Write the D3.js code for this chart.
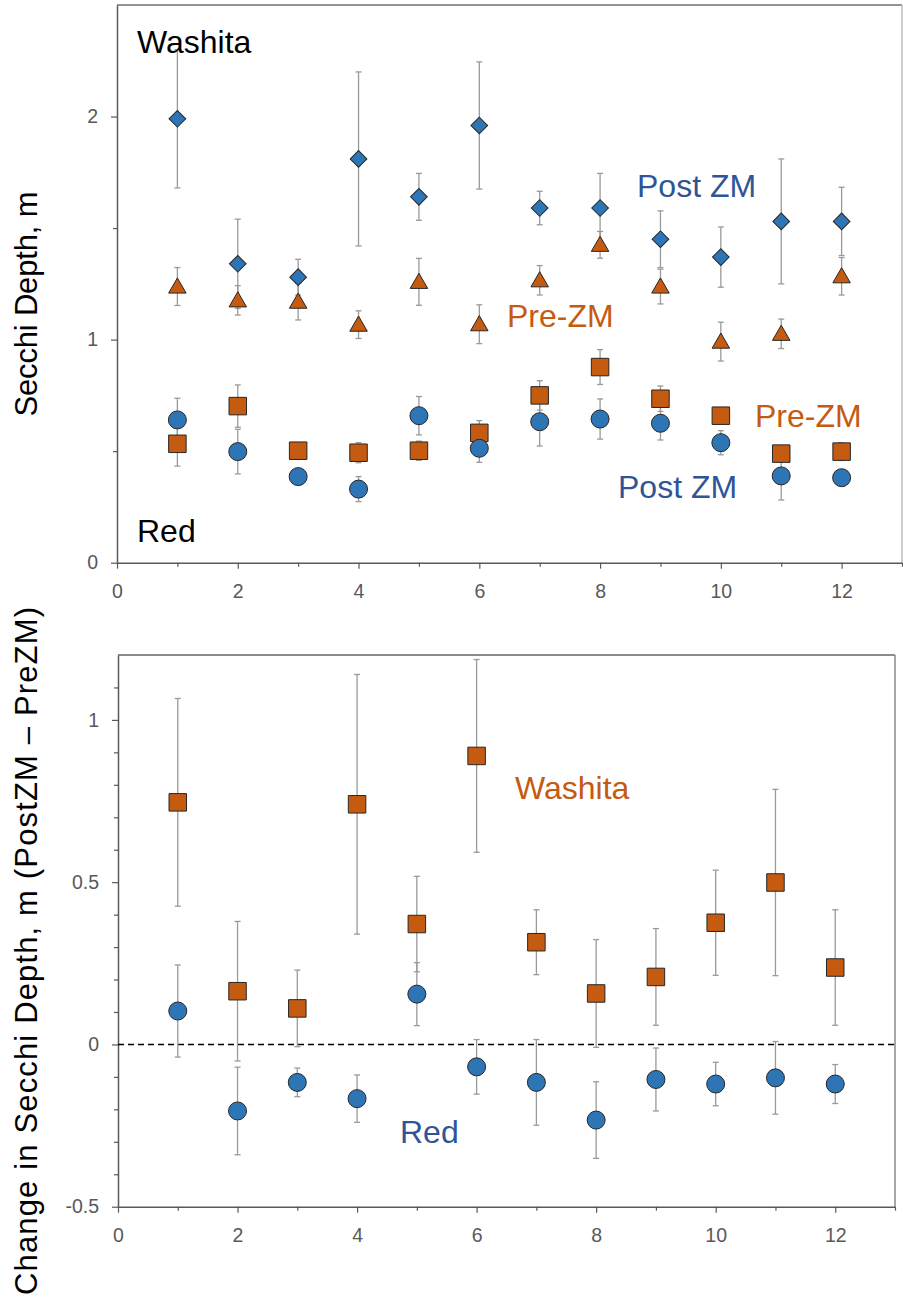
<!DOCTYPE html>
<html>
<head>
<meta charset="utf-8">
<script src="https://cdn.jsdelivr.net/npm/d3@7"></script>
<style>
  html, body { margin: 0; padding: 0; background: #fff; }
  svg { display: block; font-family: "Liberation Sans", Arial, Helvetica, sans-serif; }
</style>
</head>
<body>
<svg id="chart" width="903" height="1302"></svg>
<script>
// Months sampled
const months = [1, 2, 3, 4, 5, 6, 7, 8, 9, 10, 11, 12];

// Mean Secchi depth (m) and error, by month
const washitaPost    = [1.99, 1.34, 1.28, 1.81, 1.64, 1.96, 1.59, 1.59, 1.45, 1.37, 1.53, 1.53];
const washitaPostErr = [0.31, 0.20, 0.08, 0.39, 0.105, 0.285, 0.075, 0.155, 0.127, 0.135, 0.28, 0.153];
const washitaPre     = [1.238, 1.176, 1.17, 1.067, 1.259, 1.069, 1.266, 1.425, 1.238, 0.991, 1.026, 1.284];
const washitaPreErr  = [0.085, 0.066, 0.082, 0.062, 0.105, 0.087, 0.066, 0.06, 0.078, 0.087, 0.066, 0.084];
const redPre         = [0.533, 0.702, 0.502, 0.493, 0.502, 0.582, 0.750, 0.877, 0.735, 0.659, 0.489, 0.498];
const redPreErr      = [0.10, 0.095, 0.02, 0.045, 0.043, 0.055, 0.066, 0.078, 0.057, 0.01, 0.02, 0.04];
const redPost        = [0.640, 0.498, 0.386, 0.330, 0.659, 0.513, 0.632, 0.644, 0.625, 0.538, 0.389, 0.381];
const redPostErr     = [0.097, 0.10, 0.02, 0.056, 0.086, 0.063, 0.109, 0.09, 0.075, 0.054, 0.108, 0.03];

// Change in Secchi depth (PostZM - PreZM) and error, by month
const washitaChange    = [0.746, 0.164, 0.111, 0.740, 0.371, 0.889, 0.315, 0.157, 0.208, 0.375, 0.499, 0.237];
const washitaChangeErr = [0.32, 0.215, 0.118, 0.40, 0.147, 0.297, 0.10, 0.166, 0.149, 0.162, 0.287, 0.178];
const redChange        = [0.103, -0.205, -0.117, -0.167, 0.155, -0.069, -0.117, -0.233, -0.108, -0.122, -0.103, -0.122];
const redChangeErr     = [0.142, 0.135, 0.044, 0.073, 0.097, 0.084, 0.132, 0.118, 0.097, 0.067, 0.112, 0.06];

// Axis ticks
const xTicks = d3.range(0, 14, 1);
const xTickLabels = [0, 2, 4, 6, 8, 10, 12];
const yTopTicks = [0, 0.5, 1, 1.5, 2];
const yTopTickLabels = [0, 1, 2];
const yBotTicks = d3.range(-5, 12, 1).map(d => d / 10);
const yBotTickLabels = [-0.5, 0, 0.5, 1];

const BLUE = "#2e75b6", ORANGE = "#c55a11";
const BLUE_TEXT = "#2f5597", ORANGE_TEXT = "#c55a11";
const AXIS = "#595959", ERR = "#9a9a9a", MARK_STROKE = "#262626";

const svg = d3.select("#chart");

const isLabel = (list) => (v) => list.some(l => Math.abs(l - v) < 1e-9);

function drawAxes(g, x, y, yTicks, yLabels, frame) {
  const xLab = isLabel(xTickLabels), yLab = isLabel(yLabels);
  const [x0, x1] = x.range();
  const [y0, y1] = y.range();

  // frame: top and right borders
  g.append("line").attr("x1", x0).attr("x2", x1).attr("y1", y1).attr("y2", y1)
    .attr("stroke", frame.top).attr("stroke-width", 1.5);
  g.append("line").attr("x1", x1).attr("x2", x1).attr("y1", y1).attr("y2", y0)
    .attr("stroke", frame.right).attr("stroke-width", 1.5);

  const xa = g.append("g").attr("transform", `translate(0,${y0})`)
    .call(d3.axisBottom(x).tickValues(xTicks).tickSizeInner(6).tickSizeOuter(0)
      .tickPadding(15.5).tickFormat(d => xLab(d) ? String(d) : ""));
  xa.selectAll(".tick line").attr("y2", d => xLab(d) ? 6 : 4);

  const ya = g.append("g").attr("transform", `translate(${x0},0)`)
    .call(d3.axisLeft(y).tickValues(yTicks).tickSizeInner(6).tickSizeOuter(0)
      .tickPadding(13).tickFormat(d => yLab(d) ? String(d) : ""));
  ya.selectAll(".tick line").attr("x2", d => yLab(d) ? -6 : -4);

  [xa, ya].forEach(a => {
    a.select(".domain").attr("stroke", AXIS).attr("stroke-width", 1.5);
    a.selectAll(".tick line").attr("stroke", AXIS).attr("stroke-width", 1.2);
    a.selectAll(".tick text").attr("fill", AXIS)
      .style("font-size", "19.5px").style("font-family", '"Liberation Sans", Arial, sans-serif');
  });
}

function errorBars(g, x, y, values, errs) {
  const cap = 3;
  const eg = g.append("g");
  months.forEach((m, i) => {
    const cx = x(m), yt = y(values[i] + errs[i]), yb = y(values[i] - errs[i]);
    eg.append("line").attr("x1", cx).attr("x2", cx).attr("y1", yt).attr("y2", yb)
      .attr("stroke", ERR).attr("stroke-width", 1.3);
    [yt, yb].forEach(yy => eg.append("line").attr("x1", cx - cap).attr("x2", cx + cap)
      .attr("y1", yy).attr("y2", yy).attr("stroke", ERR).attr("stroke-width", 1.3));
  });
}

function markers(g, x, y, values, shape, fill) {
  const sym = {
    circle: d3.symbol(d3.symbolCircle, Math.PI * 9 * 9),
    square: d3.symbol(d3.symbolSquare, 17.5 * 17.5),
    diamond: d3.symbol(d3.symbolSquare, 11.8 * 11.8),
    triangle: d3.symbol(d3.symbolTriangle, 17.5 * 17.5 * Math.sqrt(3) / 4)
  }[shape];
  g.append("g").selectAll("path").data(months).join("path")
    .attr("transform", (m, i) => {
      let t = `translate(${x(m)},${y(values[i])})`;
      if (shape === "diamond") t += " rotate(45)";
      if (shape === "triangle") t += " translate(0,1.5)";
      return t;
    })
    .attr("d", sym)
    .attr("fill", fill).attr("stroke", MARK_STROKE).attr("stroke-width", 1);
}

function label(g, text, x, y, color) {
  g.append("text").attr("x", x).attr("y", y).text(text)
    .attr("fill", color).style("font-size", "32px");
}

function yTitle(text, cy, len) {
  const t = svg.append("text")
    .attr("transform", `translate(37,${cy}) rotate(-90)`)
    .attr("text-anchor", "middle").attr("fill", "#000")
    .style("font-size", "31px").text(text);
  if (len) t.attr("textLength", len).attr("lengthAdjust", "spacing");
}

// ---------- Upper panel: Secchi depth ----------
const xTop = d3.scaleLinear().domain([0, 13]).range([117, 902]);
const yTop = d3.scaleLinear().domain([0, 2.5]).range([562.7, 5]);
const gTop = svg.append("g");
drawAxes(gTop, xTop, yTop, yTopTicks, yTopTickLabels, { top: "#707070", right: "#bdbdbd" });

errorBars(gTop, xTop, yTop, washitaPost, washitaPostErr);
errorBars(gTop, xTop, yTop, washitaPre, washitaPreErr);
errorBars(gTop, xTop, yTop, redPre, redPreErr);
errorBars(gTop, xTop, yTop, redPost, redPostErr);
markers(gTop, xTop, yTop, washitaPost, "diamond", BLUE);
markers(gTop, xTop, yTop, washitaPre, "triangle", ORANGE);
markers(gTop, xTop, yTop, redPre, "square", ORANGE);
markers(gTop, xTop, yTop, redPost, "circle", BLUE);

label(gTop, "Washita", 137, 53, "#000");
label(gTop, "Red", 137, 542, "#000");
label(gTop, "Post ZM", 637, 197, BLUE_TEXT);
label(gTop, "Pre-ZM", 507, 327, ORANGE_TEXT);
label(gTop, "Pre-ZM", 755, 427, ORANGE_TEXT);
label(gTop, "Post ZM", 618, 498, BLUE_TEXT);

yTitle("Secchi Depth, m", 304, 225);

// ---------- Lower panel: change in Secchi depth ----------
const xBot = d3.scaleLinear().domain([0, 13]).range([118, 895]);
const yBot = d3.scaleLinear().domain([-0.5, 1.2]).range([1206.7, 655]);
const gBot = svg.append("g");
drawAxes(gBot, xBot, yBot, yBotTicks, yBotTickLabels, { top: "#666666", right: "#8a8a8a" });

gBot.append("line")
  .attr("x1", xBot(0)).attr("x2", xBot(13)).attr("y1", yBot(0)).attr("y2", yBot(0))
  .attr("stroke", "#000").attr("stroke-width", 1.5).attr("stroke-dasharray", "6,4");

errorBars(gBot, xBot, yBot, washitaChange, washitaChangeErr);
errorBars(gBot, xBot, yBot, redChange, redChangeErr);
markers(gBot, xBot, yBot, washitaChange, "square", ORANGE);
markers(gBot, xBot, yBot, redChange, "circle", BLUE);

label(gBot, "Washita", 515, 799, ORANGE_TEXT);
label(gBot, "Red", 400, 1143, BLUE_TEXT);

yTitle("Change in Secchi Depth, m (PostZM \u2013 PreZM)", 951, 688);
</script>
</body>
</html>
